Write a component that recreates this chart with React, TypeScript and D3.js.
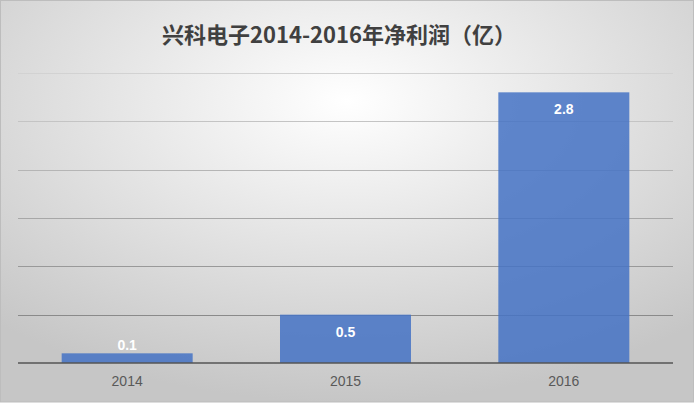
import React, { useEffect, useRef } from 'react';
import * as d3 from 'd3';

const years = ['2014', '2015', '2016'];
const profits = [0.1, 0.5, 2.8];
const yTicks = [0, 0.5, 1, 1.5, 2, 2.5, 3];
const titleText = '兴科电子2014-2016年净利润（亿）';

const App: React.FC = () => {
  const svgRef = useRef<SVGSVGElement>(null);

  useEffect(() => {
    if (!svgRef.current) return;
    const svg = d3.select(svgRef.current);
    svg.selectAll('*').remove();

    const width = 695;
    const height = 403;
    const plot = { left: 18, right: 673, top: 73, bottom: 363 };

    // background gradient
    const defs = svg.append('defs');
    const grad = defs
      .append('radialGradient')
      .attr('id', 'bg')
      .attr('cx', '50%')
      .attr('cy', '25%')
      .attr('r', '75%');
    grad.append('stop').attr('offset', '0%').attr('stop-color', '#ffffff');
    grad.append('stop').attr('offset', '100%').attr('stop-color', '#c6c6c6');

    svg
      .append('rect')
      .attr('x', 0.5)
      .attr('y', 0.5)
      .attr('width', width - 2)
      .attr('height', height - 1.5)
      .attr('fill', 'url(#bg)')
      .attr('stroke', '#bdbdbd')
      .attr('stroke-width', 1);

    const x = d3
      .scaleBand()
      .domain(years)
      .range([plot.left, plot.right])
      .paddingInner(0.4)
      .paddingOuter(0.2);

    const y = d3.scaleLinear().domain([0, 3]).range([plot.bottom, plot.top]);

    // gridlines get darker toward the bottom
    const gridColor = d3.scaleLinear<string>().domain([0, 3]).range(['#7c7c7c', '#d2d2d2']);

    svg
      .append('g')
      .selectAll('line')
      .data(yTicks.filter(t => t > 0))
      .enter()
      .append('line')
      .attr('x1', plot.left)
      .attr('x2', plot.right)
      .attr('y1', d => Math.round(y(d)) + 0.5)
      .attr('y2', d => Math.round(y(d)) + 0.5)
      .attr('stroke', d => gridColor(d))
      .attr('stroke-width', 1);

    // bars
    svg
      .append('g')
      .selectAll('rect')
      .data(profits)
      .enter()
      .append('rect')
      .attr('x', (d, i) => x(years[i]) || 0)
      .attr('y', d => y(d))
      .attr('width', x.bandwidth())
      .attr('height', d => y(0) - y(d))
      .attr('fill', '#4472c4')
      .attr('fill-opacity', 0.85);

    // axis line
    svg
      .append('line')
      .attr('x1', plot.left)
      .attr('x2', plot.right)
      .attr('y1', y(0))
      .attr('y2', y(0))
      .attr('stroke', '#555555')
      .attr('stroke-width', 1.5);

    // value labels
    svg
      .append('g')
      .selectAll('text')
      .data(profits)
      .enter()
      .append('text')
      .attr('x', (d, i) => (x(years[i]) || 0) + x.bandwidth() / 2)
      .attr('y', d => (y(0) - y(d) < 25 ? y(d) - 3.5 : y(d) + 22))
      .attr('text-anchor', 'middle')
      .attr('fill', '#ffffff')
      .style('font-family', '"Liberation Sans", Arial, sans-serif')
      .style('font-size', '14px')
      .style('font-weight', 'bold')
      .text(d => d.toFixed(1));

    // category labels
    svg
      .append('g')
      .selectAll('text')
      .data(years)
      .enter()
      .append('text')
      .attr('x', d => (x(d) || 0) + x.bandwidth() / 2)
      .attr('y', 386)
      .attr('text-anchor', 'middle')
      .attr('fill', '#595959')
      .style('font-family', '"Liberation Sans", Arial, sans-serif')
      .style('font-size', '14px')
      .text(d => d);

    // title
    svg
      .append('text')
      .attr('x', 339)
      .attr('y', 43)
      .attr('text-anchor', 'middle')
      .attr('fill', '#404040')
      .style('font-family', '"Noto Sans CJK SC", "Noto Sans", sans-serif')
      .style('font-size', '22px')
      .style('font-weight', 'bold')
      .text(titleText);
  }, []);

  return (
    <div style={{ position: 'absolute', left: 0, top: 0 }}>
      <svg ref={svgRef} width={695} height={403} style={{ display: 'block' }}></svg>
    </div>
  );
};

export default App;
